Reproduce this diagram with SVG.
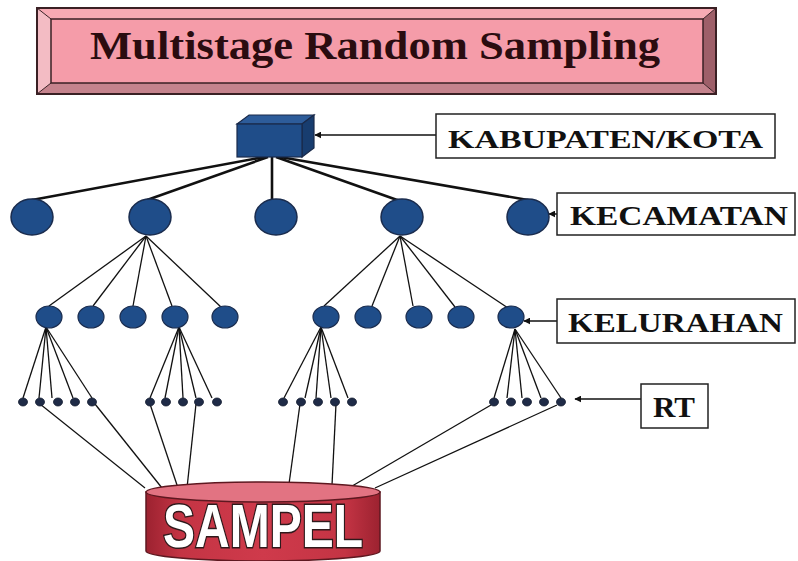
<svg xmlns="http://www.w3.org/2000/svg" width="798" height="561" viewBox="0 0 798 561">
<defs>
<style>
.lbl{fill:#fff;stroke:#222;stroke-width:1.5}
.lt{font-family:"Liberation Serif","Times New Roman",serif;font-weight:bold;fill:#111}
.kec{fill:#1f4d89;stroke:#1a2c4e;stroke-width:1.5}
.kel{fill:#1f4d89;stroke:#1a2c4e;stroke-width:1.2}
.rt{fill:#1f2b47;stroke:#111a2e;stroke-width:0.8}
.thick{stroke:#111;stroke-width:2.6;fill:none}
.thin{stroke:#111;stroke-width:1.3;fill:none}
.arr{stroke:#111;stroke-width:1.5;fill:none;marker-end:url(#ah)}
</style>
<marker id="ah" viewBox="0 0 10 10" refX="9" refY="5" markerWidth="7" markerHeight="7" orient="auto" markerUnits="userSpaceOnUse">
<path d="M0,0 L10,5 L0,10 Z" fill="#111"/>
</marker>
<linearGradient id="cyl" x1="0" y1="0" x2="1" y2="0">
<stop offset="0" stop-color="#9c2230"/>
<stop offset="0.15" stop-color="#c43444"/>
<stop offset="0.5" stop-color="#cf3a4b"/>
<stop offset="0.85" stop-color="#c43444"/>
<stop offset="1" stop-color="#9c2230"/>
</linearGradient>
</defs>

<g id="title">
<polygon points="37,8 716,8 703,19 51,19" fill="#f7aab4"/>
<polygon points="37,8 51,19 51,83 37,94" fill="#f3bcc4"/>
<polygon points="716,8 716,94 703,83 703,19" fill="#9e5f69"/>
<polygon points="37,94 51,83 703,83 716,94" fill="#c5838d"/>
<rect x="51" y="19" width="652" height="64" fill="#f59ca9" stroke="#3a2024" stroke-width="1.5"/>
<rect x="37" y="8" width="679" height="86" fill="none" stroke="#3a2024" stroke-width="2"/>
<line x1="37" y1="8" x2="51" y2="19" stroke="#3a2024" stroke-width="1"/>
<line x1="716" y1="8" x2="703" y2="19" stroke="#3a2024" stroke-width="1"/>
<line x1="37" y1="94" x2="51" y2="83" stroke="#3a2024" stroke-width="1"/>
<line x1="716" y1="94" x2="703" y2="83" stroke="#3a2024" stroke-width="1"/>
<text x="90" y="59" font-family="Liberation Serif,Times New Roman,serif" font-weight="bold" font-size="39" fill="#2a0c10" textLength="570" lengthAdjust="spacingAndGlyphs">Multistage Random Sampling</text>
</g>

<g id="connectors">
<line class="thick" x1="264" y1="157" x2="32" y2="200"/>
<line class="thick" x1="268" y1="157" x2="147" y2="200"/>
<line class="thick" x1="272" y1="157" x2="272" y2="200"/>
<line class="thick" x1="276" y1="157" x2="400" y2="201"/>
<line class="thick" x1="280" y1="157" x2="528" y2="200"/>

<line class="thin" x1="146" y1="236" x2="49" y2="306"/>
<line class="thin" x1="146" y1="236" x2="93" y2="306"/>
<line class="thin" x1="146" y1="236" x2="133" y2="306"/>
<line class="thin" x1="146" y1="236" x2="172" y2="306"/>
<line class="thin" x1="146" y1="236" x2="222" y2="308"/>

<line class="thin" x1="400" y1="236" x2="324" y2="306"/>
<line class="thin" x1="400" y1="236" x2="372" y2="306"/>
<line class="thin" x1="400" y1="236" x2="413" y2="306"/>
<line class="thin" x1="400" y1="236" x2="455" y2="307"/>
<line class="thin" x1="400" y1="236" x2="508" y2="308"/>

<line class="thin" x1="46" y1="327" x2="23" y2="398"/>
<line class="thin" x1="46" y1="327" x2="39" y2="398"/>
<line class="thin" x1="46" y1="327" x2="52" y2="398"/>
<line class="thin" x1="46" y1="327" x2="73" y2="398"/>
<line class="thin" x1="46" y1="327" x2="92" y2="398"/>

<line class="thin" x1="179" y1="327" x2="150" y2="398"/>
<line class="thin" x1="179" y1="327" x2="165" y2="398"/>
<line class="thin" x1="179" y1="327" x2="183" y2="398"/>
<line class="thin" x1="179" y1="327" x2="196" y2="398"/>
<line class="thin" x1="179" y1="327" x2="212" y2="398"/>

<line class="thin" x1="321" y1="327" x2="284" y2="398"/>
<line class="thin" x1="321" y1="327" x2="305" y2="398"/>
<line class="thin" x1="321" y1="327" x2="316" y2="398"/>
<line class="thin" x1="321" y1="327" x2="331" y2="398"/>
<line class="thin" x1="321" y1="327" x2="348" y2="398"/>

<line class="thin" x1="515" y1="329" x2="494" y2="398"/>
<line class="thin" x1="515" y1="329" x2="507" y2="398"/>
<line class="thin" x1="515" y1="329" x2="522" y2="398"/>
<line class="thin" x1="515" y1="329" x2="541" y2="398"/>
<line class="thin" x1="515" y1="329" x2="561" y2="398"/>

<line class="thin" x1="40" y1="404" x2="145" y2="488"/>
<line class="thin" x1="95" y1="404" x2="162" y2="488"/>
<line class="thin" x1="150" y1="404" x2="178" y2="488"/>
<line class="thin" x1="196" y1="404" x2="187" y2="488"/>
<line class="thin" x1="300" y1="404" x2="289" y2="484"/>
<line class="thin" x1="336" y1="404" x2="332" y2="485"/>
<line class="thin" x1="491" y1="405" x2="347" y2="489"/>
<line class="thin" x1="557" y1="405" x2="375" y2="488"/>

<line class="arr" x1="436" y1="135" x2="315" y2="135"/>
<line class="arr" x1="557" y1="214" x2="549" y2="214"/>
<line class="arr" x1="557" y1="321" x2="524" y2="321"/>
<line class="arr" x1="641" y1="399" x2="575" y2="399"/>
</g>

<g id="kabupaten-node">
<polygon points="237,124 249,115 314,115 302,124" fill="#2d5c9a" stroke="#1a2a4a" stroke-width="1.2"/>
<polygon points="302,124 314,115 314,148 302,157" fill="#183d6f" stroke="#1a2a4a" stroke-width="1.2"/>
<rect x="237" y="124" width="65" height="33" fill="#1f4d89" stroke="#1a2a4a" stroke-width="1.2"/>
</g>

<g id="kecamatan-nodes">
<ellipse class="kec" cx="32" cy="217" rx="21" ry="18"/>
<ellipse class="kec" cx="150" cy="217" rx="21" ry="18"/>
<ellipse class="kec" cx="276" cy="217" rx="21" ry="18"/>
<ellipse class="kec" cx="402" cy="217" rx="21" ry="18"/>
<ellipse class="kec" cx="528" cy="217" rx="21" ry="18"/>
</g>

<g id="kelurahan-nodes">
<ellipse class="kel" cx="49" cy="317" rx="13" ry="11"/>
<ellipse class="kel" cx="91" cy="317" rx="13" ry="11"/>
<ellipse class="kel" cx="133" cy="317" rx="13" ry="11"/>
<ellipse class="kel" cx="175" cy="317" rx="13" ry="11"/>
<ellipse class="kel" cx="225" cy="317" rx="13" ry="11"/>
<ellipse class="kel" cx="326" cy="317" rx="13" ry="11"/>
<ellipse class="kel" cx="368" cy="317" rx="13" ry="11"/>
<ellipse class="kel" cx="419" cy="317" rx="13" ry="11"/>
<ellipse class="kel" cx="461" cy="317" rx="13" ry="11"/>
<ellipse class="kel" cx="511" cy="317" rx="13" ry="11"/>
</g>

<g id="rt-nodes">
<ellipse class="rt" cx="23" cy="402" rx="4.5" ry="4"/>
<ellipse class="rt" cx="40" cy="402" rx="4.5" ry="4"/>
<ellipse class="rt" cx="58" cy="402" rx="4.5" ry="4"/>
<ellipse class="rt" cx="75" cy="402" rx="4.5" ry="4"/>
<ellipse class="rt" cx="92" cy="402" rx="4.5" ry="4"/>
<ellipse class="rt" cx="150" cy="402" rx="4.5" ry="4"/>
<ellipse class="rt" cx="166" cy="402" rx="4.5" ry="4"/>
<ellipse class="rt" cx="183" cy="402" rx="4.5" ry="4"/>
<ellipse class="rt" cx="199" cy="402" rx="4.5" ry="4"/>
<ellipse class="rt" cx="217" cy="402" rx="4.5" ry="4"/>
<ellipse class="rt" cx="283" cy="402" rx="4.5" ry="4"/>
<ellipse class="rt" cx="301" cy="402" rx="4.5" ry="4"/>
<ellipse class="rt" cx="318" cy="402" rx="4.5" ry="4"/>
<ellipse class="rt" cx="335" cy="402" rx="4.5" ry="4"/>
<ellipse class="rt" cx="352" cy="402" rx="4.5" ry="4"/>
<ellipse class="rt" cx="494" cy="402" rx="4.5" ry="4"/>
<ellipse class="rt" cx="511" cy="402" rx="4.5" ry="4"/>
<ellipse class="rt" cx="527" cy="402" rx="4.5" ry="4"/>
<ellipse class="rt" cx="544" cy="402" rx="4.5" ry="4"/>
<ellipse class="rt" cx="561" cy="402" rx="4.5" ry="4"/>
</g>

<g id="label-kabupaten">
<rect class="lbl" x="436" y="114" width="339" height="44"/>
<text class="lt" x="448" y="148" font-size="26" textLength="315" lengthAdjust="spacingAndGlyphs">KABUPATEN/KOTA</text>
</g>
<g id="label-kecamatan">
<rect class="lbl" x="557" y="193" width="238" height="42"/>
<text class="lt" x="570" y="225" font-size="27" textLength="218" lengthAdjust="spacingAndGlyphs">KECAMATAN</text>
</g>
<g id="label-kelurahan">
<rect class="lbl" x="557" y="299" width="238" height="44"/>
<text class="lt" x="568" y="332" font-size="27" textLength="215" lengthAdjust="spacingAndGlyphs">KELURAHAN</text>
</g>
<g id="label-rt">
<rect class="lbl" x="641" y="384" width="67" height="44"/>
<text class="lt" x="653" y="417" font-size="30" textLength="42" lengthAdjust="spacingAndGlyphs">RT</text>
</g>

<g id="sampel">
<path d="M146,492 L146,551 A117,10 0 0 0 380,551 L380,492 Z" fill="url(#cyl)" stroke="#5e1820" stroke-width="1.5"/>
<ellipse cx="263" cy="492" rx="117" ry="10" fill="#e27382" stroke="#5e1820" stroke-width="1.5"/>
<text x="163" y="547" font-family="Liberation Sans,Arial,sans-serif" font-weight="bold" font-size="62" fill="#fff" stroke="#2e1a1c" stroke-width="3" paint-order="stroke" textLength="200" lengthAdjust="spacingAndGlyphs">SAMPEL</text>
</g>
</svg>
